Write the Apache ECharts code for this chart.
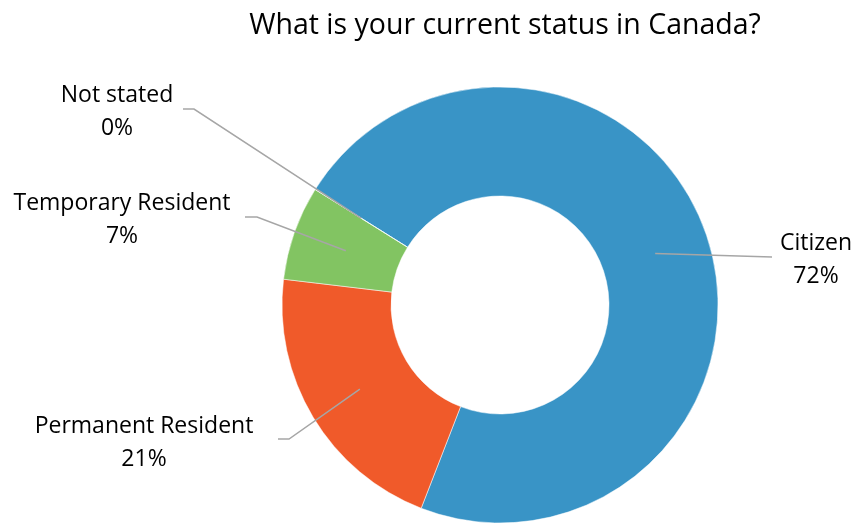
<!DOCTYPE html>
<html>
<head>
<meta charset="utf-8">
<script src="https://cdn.jsdelivr.net/npm/echarts@6/dist/echarts.min.js"></script>
<style>
  html, body { margin: 0; padding: 0; background: #fff; }
  #chart { width: 856px; height: 525px; }
</style>
</head>
<body>
<div id="chart"></div>
<script>
// Survey answers and their shares (percent)
const categories = ['Citizen', 'Permanent Resident', 'Temporary Resident', 'Not stated'];
const shares = [72, 21, 7, 0];
const colors = ['#3994C6', '#F05A2A', '#82C462', '#A5A5A5'];

// Donut geometry (pixels)
const CX = 500, CY = 305, R_IN = 109, R_OUT = 218;
const START = 148; // degrees, counter-clockwise from 3 o'clock; slices run clockwise

// Where each label sits and how its leader line bends before reaching it
const labelSpots = [
  { x: 816, y: 260, elbow: [772, 257], end: [772, 257] },
  { x: 144, y: 443, elbow: [289, 439], end: [278, 439] },
  { x: 122, y: 220, elbow: [257, 217], end: [245, 217] },
  { x: 117, y: 112, elbow: [194, 109], end: [183, 109] }
];

const total = shares.reduce((a, b) => a + b, 0);
function midAngle(i) {
  let before = 0;
  for (let k = 0; k < i; k++) before += shares[k];
  const mid = before + shares[i] / 2;
  return (START - mid / total * 360) * Math.PI / 180;
}

const pieData = categories.map((name, i) => ({ name: name, value: shares[i] }));
const common = {
  type: 'pie',
  center: [CX, CY],
  radius: [R_IN, R_OUT],
  startAngle: START,
  clockwise: true,
  percentPrecision: 0,
  avoidLabelOverlap: false,
  silent: true,
  data: pieData
};

const chart = echarts.init(document.getElementById('chart'));
chart.setOption({
  animation: false,
  color: colors,
  title: {
    text: 'What is your current status in Canada?',
    left: 500,
    textAlign: 'center',
    top: 6,
    textStyle: { fontFamily: 'Open Sans', fontSize: 28.5, fontWeight: 'normal', color: '#000' }
  },
  series: [
    // the coloured ring
    Object.assign({}, common, {
      z: 2,
      itemStyle: { borderColor: '#fff', borderWidth: 0.5 },
      label: { show: false },
      labelLine: { show: false }
    }),
    // labels and leader lines, drawn above the ring
    Object.assign({}, common, {
      z: 3,
      itemStyle: { color: 'rgba(0,0,0,0)' },
      label: {
        show: true,
        formatter: '{b}\n{d}%',
        fontFamily: 'Open Sans',
        fontSize: 23,
        lineHeight: 33,
        color: '#000',
        align: 'center'
      },
      labelLine: {
        show: true,
        lineStyle: { color: '#A6A6A6', width: 1.5 }
      },
      labelLayout: function (params) {
        const i = params.dataIndex;
        const a = midAngle(i);
        // leader lines start in the middle of the ring band
        const r = (R_IN + R_OUT) / 2;
        const anchor = [CX + r * Math.cos(a), CY - r * Math.sin(a)];
        const s = labelSpots[i];
        return {
          x: s.x,
          y: s.y,
          align: 'center',
          verticalAlign: 'middle',
          labelLinePoints: [anchor, s.elbow, s.end]
        };
      }
    })
  ]
});
</script>
</body>
</html>
